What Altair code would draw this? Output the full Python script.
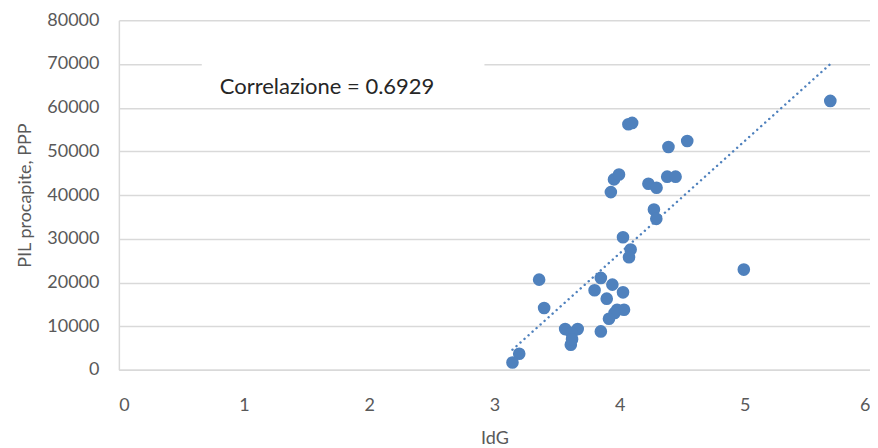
import altair as alt
import pandas as pd

idg = [4.07, 4.10, 4.39, 4.54, 3.955, 3.995, 3.93, 4.23, 4.295, 4.38, 4.447,
       4.274, 4.293, 4.027, 4.088, 4.075, 3.357, 3.85, 3.942, 3.80, 4.027,
       3.897, 3.397, 3.98, 4.035, 3.96, 3.915, 3.565, 3.665, 3.617, 3.61,
       3.62, 3.85, 3.198, 3.144, 4.992, 5.683]
pil = [56200, 56500, 50990, 52370, 43580, 44700, 40670, 42590, 41670, 44200, 44200,
       36700, 34560, 30350, 27520, 25760, 20640, 21030, 19500, 18200, 17740,
       16280, 14150, 13760, 13760, 13000, 11700, 9330, 9330, 8400, 5730,
       7000, 8790, 3670, 1680, 22940, 61540]

annotation = "Correlazione = 0.6929"
x_title = "IdG"
y_title = "PIL procapite, PPP"

df = pd.DataFrame({"IdG": idg, "PIL": pil})
BLUE = "#4F81BD"
FONT = "Lato"

xs = alt.X("IdG:Q", scale=alt.Scale(domain=[0, 6], nice=False),
           axis=alt.Axis(title=x_title, values=[0, 1, 2, 3, 4, 5, 6], format="d", grid=False, ticks=False,
                         domainColor="#d9d9d9", domainWidth=1.5, labelPadding=27,
                         labelFontSize=18, labelColor="#595959", labelFont=FONT,
                         titleFontSize=18, titleColor="#595959", titleFont=FONT,
                         titleFontWeight="normal", titlePadding=15))
ys = alt.Y("PIL:Q", scale=alt.Scale(domain=[0, 80000], nice=False),
           axis=alt.Axis(title=y_title, values=list(range(0, 80001, 10000)), format="d", grid=True,
                         gridColor="#d9d9d9", gridWidth=1.5, ticks=False,
                         domainColor="#d9d9d9", domainWidth=1.5, labelPadding=20,
                         labelFontSize=18, labelColor="#595959", labelFont=FONT,
                         titleFontSize=18, titleColor="#595959", titleFont=FONT,
                         titleFontWeight="normal", titlePadding=12))

base = alt.Chart(df)
points = base.mark_circle(size=160, opacity=1, color=BLUE).encode(x=xs, y=ys)
trend = base.transform_regression("IdG", "PIL").mark_line(
    color=BLUE, strokeWidth=2.4, strokeDash=[0.1, 5.3], strokeCap="round").encode(x="IdG:Q", y="PIL:Q")

box = alt.Chart(pd.DataFrame({"t": [annotation]})).mark_rect(color="white").encode(
    x=alt.value(83), x2=alt.value(366), y=alt.value(36), y2=alt.value(52))
label = alt.Chart(pd.DataFrame({"t": [annotation]})).mark_text(
    align="left", baseline="middle", fontSize=22, font=FONT, color="#262626").encode(
    x=alt.value(101), y=alt.value(67), text="t:N")

chart = alt.layer(trend, points, box, label).properties(
    width=752, height=350,
    autosize=alt.AutoSizeParams(type="none"),
    padding={"left": 111, "top": 12, "right": 0, "bottom": 80},
).configure_view(stroke=None)

chart.save("out.html", embed_options={"renderer": "svg", "actions": False})
